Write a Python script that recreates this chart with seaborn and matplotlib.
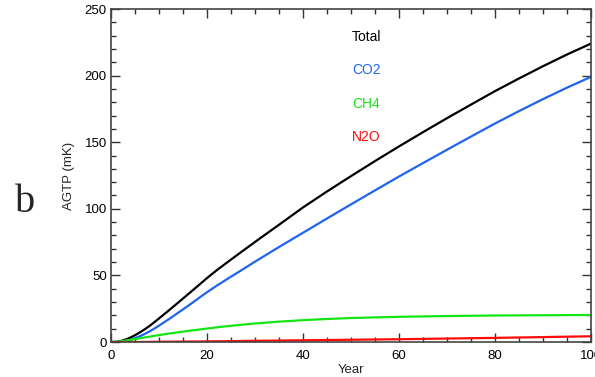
import matplotlib
matplotlib.use("Agg")
import matplotlib.pyplot as plt
import seaborn as sns
import pandas as pd
from matplotlib.ticker import MultipleLocator

years = [0, 1, 2, 3, 4, 5, 6, 7, 8, 9, 10, 12, 14, 16, 18, 20, 22, 24, 27, 30,
         35, 40, 45, 50, 55, 60, 65, 70, 75, 80, 85, 90, 95, 100]
total = [0, 0.1, 0.7, 1.8, 3.3, 5.1, 7.2, 9.5, 12.0, 14.8, 17.7, 23.6, 29.6, 35.7, 41.8, 48.0, 53.8, 59.2, 67.2, 75.1,
         88.0, 101.0, 113.0, 124.5, 135.8, 146.8, 157.5, 168.0, 178.2, 188.3, 197.8, 207.0, 215.8, 224.0]
co2 = [0, 0, 0.2, 0.8, 1.7, 2.9, 4.3, 6.0, 7.9, 10.0, 12.3, 17.0, 22.0, 27.0, 32.2, 37.4, 42.2, 46.8, 53.5, 60.3,
       71.3, 82.0, 92.7, 103.3, 113.8, 124.2, 134.3, 144.3, 154.2, 164.0, 173.3, 182.3, 190.9, 199.0]
ch4 = [0, 0.1, 0.5, 1.0, 1.6, 2.2, 2.8, 3.4, 4.0, 4.6, 5.2, 6.3, 7.3, 8.3, 9.2, 10.1, 11.0, 11.8, 12.9, 13.9,
       15.3, 16.4, 17.3, 18.0, 18.5, 18.9, 19.2, 19.5, 19.7, 19.9, 20.0, 20.1, 20.2, 20.3]
n2o = [0, 0, 0, 0, 0, 0, 0.05, 0.1, 0.1, 0.15, 0.2, 0.25, 0.3, 0.35, 0.4, 0.5, 0.55, 0.6, 0.75, 0.9,
       1.1, 1.3, 1.5, 1.7, 1.9, 2.1, 2.35, 2.6, 2.85, 3.1, 3.4, 3.7, 4.0, 4.3]
series_names = ["Total", "CO2", "CH4", "N2O"]
series_colors = ["#000000", "#1f64f0", "#14e614", "#ff0a0a"]

df = pd.concat([
    pd.DataFrame({"Year": years, "AGTP": vals, "Gas": name})
    for name, vals in zip(series_names, [total, co2, ch4, n2o])
])

sns.set_style("ticks")
plt.rcParams["font.family"] = ["Liberation Sans", "DejaVu Sans"]

fig = plt.figure(figsize=(5.95, 3.77), dpi=100)
ax = fig.add_axes([0.1866, 0.0928, 0.8064, 0.8833])
sns.lineplot(data=df, x="Year", y="AGTP", hue="Gas", palette=dict(zip(series_names, series_colors)),
             ax=ax, legend=False, linewidth=1.6)

ax.set_xlim(0, 100)
ax.set_ylim(0, 250)
ax.xaxis.set_major_locator(MultipleLocator(20))
ax.xaxis.set_minor_locator(MultipleLocator(5))
ax.yaxis.set_major_locator(MultipleLocator(50))
ax.yaxis.set_minor_locator(MultipleLocator(10))
ax.tick_params(which="both", direction="in", top=True, right=True, labelsize=9.5, colors="#333333",
               labelcolor="black")
ax.tick_params(axis="x", which="major", pad=6)
ax.tick_params(axis="y", which="major", pad=3)
ax.tick_params(which="major", length=6.5, width=1)
ax.tick_params(which="minor", length=3.3, width=1)
for s in ax.spines.values():
    s.set_color("#444444")
    s.set_linewidth(1.2)
ax.set_xlabel("Year", fontsize=9.5, labelpad=1)
ax.set_ylabel("AGTP (mK)", fontsize=9.5, labelpad=7)

for i, (name, col) in enumerate(zip(series_names, series_colors)):
    ax.text(50.2, 229.2 - i * 25.2, name, color=col, fontsize=10, va="center", ha="left")

fig.text(25 / 595, 1 - 212 / 377, "b", fontsize=29, family=["Liberation Serif", "DejaVu Serif"],
         ha="center", va="baseline")

fig.savefig("out.png", dpi=100)
